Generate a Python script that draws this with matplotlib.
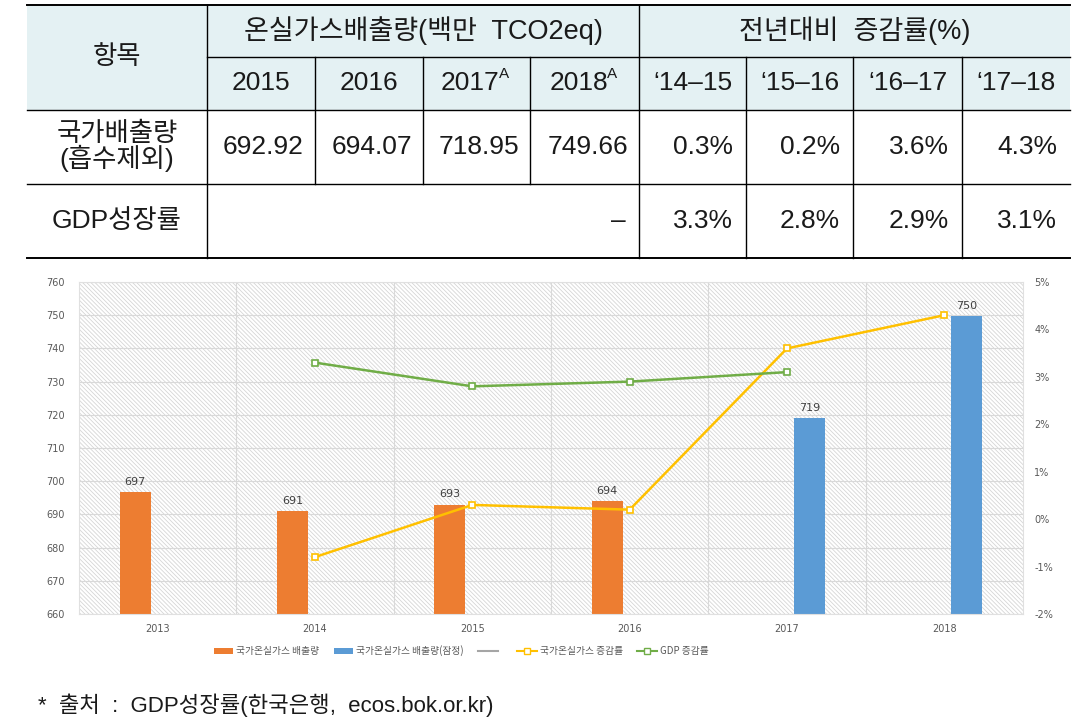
import matplotlib
matplotlib.use("Agg")
import matplotlib.pyplot as plt
import numpy as np
from matplotlib.patches import Rectangle, Patch
from matplotlib.lines import Line2D
from matplotlib.ticker import FuncFormatter, MultipleLocator, FixedLocator

plt.rcParams["font.family"] = ["Liberation Sans", "Noto Sans CJK KR"]
plt.rcParams["hatch.linewidth"] = 0.6

# ---- table data ----
row_items = ["국가배출량\n(흡수제외)", "GDP성장률"]
emission_years = ["2015", "2016", "2017", "2018"]
year_is_provisional = [False, False, True, True]
emission_values = [692.92, 694.07, 718.95, 749.66]
change_periods = ["‘14–15", "‘15–16", "‘16–17", "‘17–18"]
emission_change = [0.3, 0.2, 3.6, 4.3]
gdp_growth = [3.3, 2.8, 2.9, 3.1]
footnote = "*  출처  :  GDP성장률(한국은행,  ecos.bok.or.kr)"

# ---- chart data ----
chart_years = ["2013", "2014", "2015", "2016", "2017", "2018"]
chart_emissions = [696.6, 690.9, 692.92, 694.07, 718.95, 749.66]
chart_provisional = [False, False, False, False, True, True]
chart_emission_rate = [np.nan, -0.8, 0.3, 0.2, 3.6, 4.3]
chart_gdp_rate = [np.nan, 3.3, 2.8, 2.9, 3.1, np.nan]
legend_labels = ["국가온실가스 배출량", "국가온실가스 배출량(잠정)", " ",
                 "국가온실가스 증감률", "GDP 증감률"]

ORANGE = "#ED7D31"
BLUE = "#5B9BD5"
YELLOW = "#FFC000"
GREEN = "#70AD47"
GRAY = "#A5A5A5"
TXT = "#595959"
INK = "#1A1A1A"

W, H = 1090, 728
fig = plt.figure(figsize=(W / 100, H / 100), dpi=100)

# ---- table (pixel coordinates) ----
tab = fig.add_axes([0, 0, 1, 1])
tab.set_xlim(0, W)
tab.set_ylim(H, 0)
tab.axis("off")

cols = [27, 207, 315, 423, 530, 639, 746, 853, 962, 1070]
rows = [5, 57, 110, 184, 258]
fs = 19

tab.add_patch(Rectangle((cols[0], rows[0]), cols[-1] - cols[0], rows[2] - rows[0],
                        facecolor="#E4F1F3", edgecolor="none", zorder=0))
lw = 1.0
for y in [rows[0], rows[2], rows[3], rows[4]]:
    tab.plot([cols[0], cols[-1]], [y, y], color="black",
             lw=1.4 if y in (rows[0], rows[4]) else lw)
tab.plot([cols[1], cols[-1]], [rows[1], rows[1]], color="black", lw=lw)
for x in [cols[1], cols[5]]:
    tab.plot([x, x], [rows[0], rows[4]], color="black", lw=lw)
for x in cols[2:5]:
    tab.plot([x, x], [rows[1], rows[3]], color="black", lw=lw)
for x in cols[6:9]:
    tab.plot([x, x], [rows[1], rows[4]], color="black", lw=lw)

def cy(i):
    return (rows[i] + rows[i + 1]) / 2

tab.text((cols[0] + cols[1]) / 2, (rows[0] + rows[2]) / 2, "항목",
         ha="center", va="center", fontsize=fs, color=INK)
tab.text((cols[1] + cols[5]) / 2, cy(0), "온실가스배출량(백만  TCO2eq)",
         ha="center", va="center", fontsize=fs + 0.5, color=INK)
tab.text((cols[5] + cols[9]) / 2, cy(0), "전년대비  증감률(%)",
         ha="center", va="center", fontsize=fs + 0.5, color=INK)

for j, (yr, prov) in enumerate(zip(emission_years, year_is_provisional)):
    xc = (cols[1 + j] + cols[2 + j]) / 2
    if prov:
        tab.text(xc - 6, cy(1), yr, ha="center", va="center", fontsize=fs, color=INK)
        tab.text(xc + 22, cy(1) - 9, "A", ha="left", va="center", fontsize=11, color=INK)
    else:
        tab.text(xc, cy(1), yr, ha="center", va="center", fontsize=fs, color=INK)
for j, per in enumerate(change_periods):
    xc = (cols[5 + j] + cols[6 + j]) / 2
    tab.text(xc, cy(1), per, ha="center", va="center", fontsize=fs, color=INK)

tab.text((cols[0] + cols[1]) / 2, cy(2), row_items[0], ha="center", va="center",
         fontsize=fs, linespacing=0.95, color=INK)
tab.text((cols[0] + cols[1]) / 2, cy(3), row_items[1], ha="center", va="center",
         fontsize=fs, color=INK)

pad = 11
for j, v in enumerate(emission_values):
    tab.text(cols[2 + j] - pad, cy(2), f"{v:.2f}", ha="right", va="center",
             fontsize=fs, color=INK)
for j, v in enumerate(emission_change):
    tab.text(cols[6 + j] - 13, cy(2), f"{v:.1f}%", ha="right", va="center",
             fontsize=fs, color=INK)
tab.text(cols[5] - 13, cy(3), "–", ha="right", va="center", fontsize=fs, color=INK)
for j, v in enumerate(gdp_growth):
    tab.text(cols[6 + j] - 13, cy(3), f"{v:.1f}%", ha="right", va="center",
             fontsize=fs, color=INK)

tab.text(38, 705, footnote, ha="left", va="center", fontsize=16, color=INK)

# ---- chart ----
ax = fig.add_axes([79 / W, 1 - 614 / H, 944 / W, 332 / H])
x = np.arange(len(chart_years))
ax.set_xlim(-0.5, len(chart_years) - 0.5)
ax.set_ylim(660, 760)
ax.add_patch(Rectangle((0, 0), 1, 1, transform=ax.transAxes, facecolor="white",
                       edgecolor="#D6D6D6", hatch="\\\\\\\\\\\\\\\\", lw=0, zorder=0))
ax.yaxis.set_major_locator(MultipleLocator(10))
ax.xaxis.set_minor_locator(FixedLocator(x[:-1] + 0.5))
ax.set_axisbelow(True)
ax.grid(True, axis="y", which="major", color="#D9D9D9", lw=0.8)
ax.grid(True, axis="x", which="minor", color="#D9D9D9", lw=0.8)
ax.set_xticks(x)
ax.set_xticklabels(chart_years)
for s in ax.spines.values():
    s.set_color("#E0E0E0")
    s.set_linewidth(0.8)

bw = 0.197
off = 0.143
for xi, v, prov in zip(x, chart_emissions, chart_provisional):
    xb = xi + off if prov else xi - off
    ax.bar(xb, v - 660, bottom=660, width=bw, color=BLUE if prov else ORANGE, zorder=2)
    ax.text(xb, v + 1.6, f"{round(v):d}", ha="center", va="bottom",
            fontsize=8, color="#404040", family="DejaVu Sans", zorder=3)

ax.tick_params(axis="both", which="both", length=0, labelsize=7, labelcolor=TXT)
ax.tick_params(axis="y", pad=10)
ax.tick_params(axis="x", pad=7)

ax2 = ax.twinx()
ax2.set_ylim(-2, 5)
ax2.yaxis.set_major_locator(MultipleLocator(1))
ax2.yaxis.set_major_formatter(FuncFormatter(lambda v, p: f"{v:.0f}%"))
ax2.tick_params(axis="y", length=0, labelsize=7, labelcolor=TXT, pad=8)
for s in ax2.spines.values():
    s.set_visible(False)
ax2.plot(x, chart_emission_rate, color=YELLOW, lw=1.8, marker="s", markersize=5,
         markerfacecolor="white", markeredgecolor=YELLOW, markeredgewidth=1.2, zorder=4)
ax2.plot(x, chart_gdp_rate, color=GREEN, lw=1.8, marker="s", markersize=5,
         markerfacecolor="white", markeredgecolor=GREEN, markeredgewidth=1.2, zorder=4)

for a in (ax, ax2):
    for lab in a.get_xticklabels() + a.get_yticklabels():
        lab.set_family(["DejaVu Sans", "Noto Sans CJK KR"])

handles = [
    Patch(facecolor=ORANGE, edgecolor="none"),
    Patch(facecolor=BLUE, edgecolor="none"),
    Line2D([], [], color=GRAY, lw=1.5),
    Line2D([], [], color=YELLOW, lw=1.5, marker="s", markersize=5,
           markerfacecolor="white", markeredgecolor=YELLOW),
    Line2D([], [], color=GREEN, lw=1.5, marker="s", markersize=5,
           markerfacecolor="white", markeredgecolor=GREEN),
]
leg = fig.legend(handles, legend_labels, loc="center", ncol=5,
                 bbox_to_anchor=(461 / W, 1 - 651 / H), frameon=False,
                 handlelength=2.0, handleheight=0.5,
                 handletextpad=0.3, columnspacing=1.5,
                 prop={"family": ["Noto Sans CJK KR"], "size": 7})
for t in leg.get_texts():
    t.set_color(TXT)

fig.savefig("out.png", dpi=100)
